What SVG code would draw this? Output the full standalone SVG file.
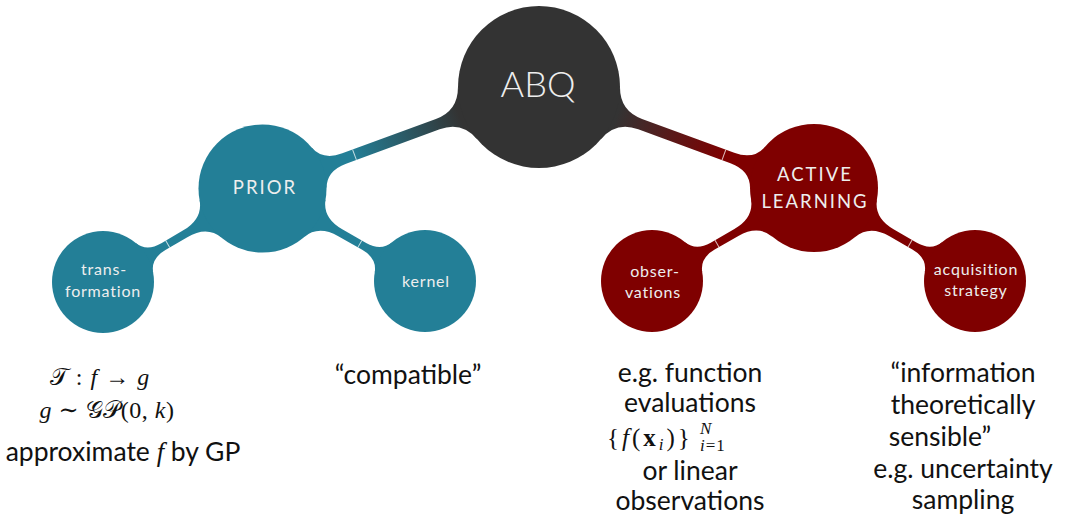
<svg xmlns="http://www.w3.org/2000/svg" width="1065" height="516" viewBox="0 0 1065 516">
<style>
.teal{fill:#237f97}
.red{fill:#7f0000}
.dark{fill:#333333}
.tick{stroke:#ffffff;stroke-opacity:0.75;stroke-width:1}
.lbl{font-family:Lato,"Open Sans",sans-serif;fill:#eeeeee;text-anchor:middle}
.big{font-size:36px;font-weight:300}
.cap{font-size:18.5px;letter-spacing:2px}
.sm{font-size:16px;letter-spacing:0.8px}
.txt{font-family:Lato,"Open Sans",sans-serif;font-size:26.5px;fill:#111111;text-anchor:middle}
.m{font-family:"Liberation Serif","DejaVu Serif",serif;font-size:24px;fill:#111111}
.i{font-style:italic}
.sup{font-size:17px;letter-spacing:0}
.sub{font-size:17px;letter-spacing:1px}
.cal{font-family:"DejaVu Sans","DejaVu Serif","Noto Sans",serif;font-style:normal}
</style>
<defs>
<linearGradient id="gP" gradientUnits="userSpaceOnUse" x1="95" y1="0" x2="210" y2="0">
<stop offset="0" stop-color="#237f97"/><stop offset="1" stop-color="#333333"/>
</linearGradient>
<linearGradient id="gA" gradientUnits="userSpaceOnUse" x1="95" y1="0" x2="210" y2="0">
<stop offset="0" stop-color="#7f0000"/><stop offset="1" stop-color="#333333"/>
</linearGradient>
</defs>
<g id="connectors">
<g transform="translate(262.5,188.5) rotate(-20.16)">
<path fill="url(#gP)" d="M60.14,21.89 Q66.11,5.5 87,5.5 L186.7,5.5 Q210.3,5.5 218.38,27.7 L218.38,-27.7 Q210.3,-5.5 186.7,-5.5 L87,-5.5 Q66.11,-5.5 60.14,-21.89 Z"/>
<line class="tick" x1="98" y1="-5.5" x2="98" y2="5.5"/>
</g>
<g transform="translate(814,188) rotate(-159.83)">
<path fill="url(#gA)" d="M60.14,21.89 Q66.11,5.5 87,5.5 L185.2,5.5 Q208.8,5.5 216.88,27.7 L216.88,-27.7 Q208.8,-5.5 185.2,-5.5 L87,-5.5 Q66.11,-5.5 60.14,-21.89 Z"/>
<line class="tick" x1="96" y1="-5.5" x2="96" y2="5.5"/>
</g>
<g transform="translate(103,282) rotate(-30.38)">
<path class="teal" d="M47.92,17.44 Q52.82,4 70,4 L95.4,4 Q118.25,4 124.76,21.89 L124.76,-21.89 Q118.25,-4 95.4,-4 L70,-4 Q52.82,-4 47.92,-17.44 Z"/>
<line class="tick" x1="75" y1="-4" x2="75" y2="4"/>
</g>
<g transform="translate(425,281) rotate(-150.35)">
<path class="teal" d="M47.92,17.44 Q52.82,4 70,4 L97.5,4 Q120.35,4 126.86,21.89 L126.86,-21.89 Q120.35,-4 97.5,-4 L70,-4 Q52.82,-4 47.92,-17.44 Z"/>
<line class="tick" x1="75" y1="-4" x2="75" y2="4"/>
</g>
<g transform="translate(652,281) rotate(-29.86)">
<path class="red" d="M47.92,17.44 Q52.82,4 70,4 L97.3,4 Q120.15,4 126.66,21.89 L126.66,-21.89 Q120.15,-4 97.3,-4 L70,-4 Q52.82,-4 47.92,-17.44 Z"/>
<line class="tick" x1="75" y1="-4" x2="75" y2="4"/>
</g>
<g transform="translate(975,281) rotate(-149.99)">
<path class="red" d="M47.92,17.44 Q52.82,4 70,4 L96.4,4 Q119.25,4 125.76,21.89 L125.76,-21.89 Q119.25,-4 96.4,-4 L70,-4 Q52.82,-4 47.92,-17.44 Z"/>
<line class="tick" x1="75" y1="-4" x2="75" y2="4"/>
</g>
</g>
<g id="abq">
<circle class="dark" cx="539" cy="87" r="81"/>
<text class="lbl big" x="538" y="97">ABQ</text>
</g>
<g id="prior">
<circle class="teal" cx="262.5" cy="188.5" r="64"/>
<text class="lbl cap" x="265" y="194">PRIOR</text>
</g>
<g id="active-learning">
<circle class="red" cx="814" cy="188" r="64"/>
<text class="lbl cap" x="815" y="181">ACTIVE</text>
<text class="lbl cap" x="815" y="208">LEARNING</text>
</g>
<g id="transformation">
<circle class="teal" cx="103" cy="282" r="51"/>
<text class="lbl sm" x="104" y="275">trans-</text>
<text class="lbl sm" x="103" y="297">formation</text>
</g>
<g id="kernel">
<circle class="teal" cx="425" cy="281" r="51"/>
<text class="lbl sm" x="426" y="287">kernel</text>
</g>
<g id="observations">
<circle class="red" cx="652" cy="281" r="51"/>
<text class="lbl sm" x="655" y="277">obser-</text>
<text class="lbl sm" x="653" y="298">vations</text>
</g>
<g id="acquisition-strategy">
<circle class="red" cx="975" cy="281" r="51"/>
<text class="lbl sm" x="976" y="275">acquisition</text>
<text class="lbl sm" x="976" y="296">strategy</text>
</g>
<g id="annotations">
<text class="m" x="100" y="385" text-anchor="middle" letter-spacing="1"><tspan class="cal">𝒯</tspan> : <tspan class="i">f</tspan> → <tspan class="i">g</tspan></text>
<text class="m" x="107" y="418" text-anchor="middle" letter-spacing="0.5"><tspan class="i">g</tspan> ∼ <tspan class="cal">𝒢𝒫</tspan>(0, <tspan class="i">k</tspan>)</text>
<text class="txt" x="123" y="461">approximate <tspan class="i" font-family="Liberation Serif, serif">f</tspan> by GP</text>
<text class="txt" x="408" y="384">“compatible”</text>
<text class="txt" x="690" y="382">e.g. function</text>
<text class="txt" x="690" y="412">evaluations</text>
<text class="m" x="607" y="446" style="font-size:25px;letter-spacing:3px">{<tspan class="i">f</tspan>(<tspan font-weight="bold">x</tspan><tspan class="i" style="font-size:17px" dy="4">i</tspan><tspan dy="-4">)}</tspan><tspan class="i sup" x="700" dy="-12">N</tspan><tspan class="sub" x="700" dy="17"><tspan class="i">i</tspan>=1</tspan></text>
<text class="txt" x="690" y="480">or linear</text>
<text class="txt" x="690" y="510">observations</text>
<text class="txt" x="963" y="382">“information</text>
<text class="txt" x="963" y="414">theoretically</text>
<text class="txt" x="940" y="446">sensible”</text>
<text class="txt" x="963" y="478">e.g. uncertainty</text>
<text class="txt" x="963" y="509">sampling</text>
</g>
</svg>
